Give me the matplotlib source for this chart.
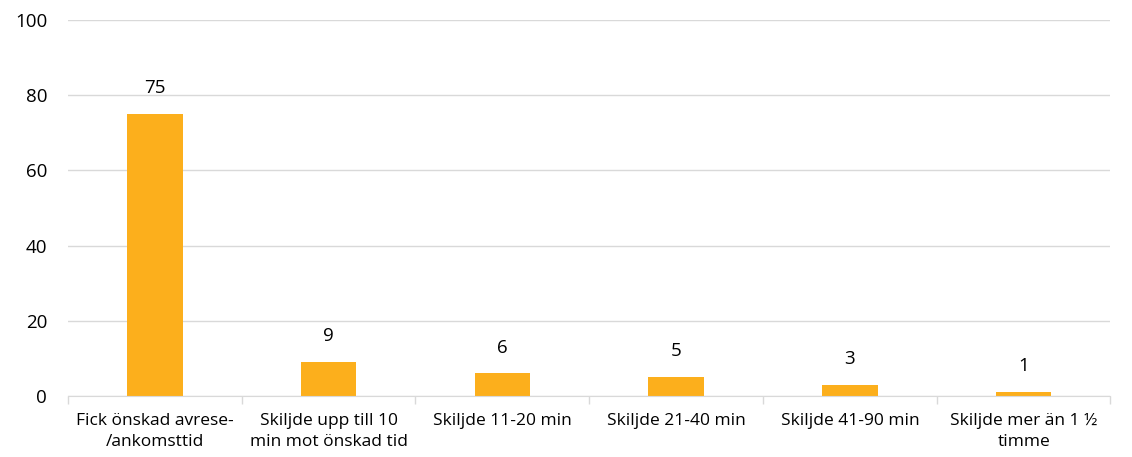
import matplotlib.pyplot as plt
import numpy as np

# data
categories = ["Fick önskad avrese-\n/ankomsttid", "Skiljde upp till 10\nmin mot önskad tid",
              "Skiljde 11-20 min", "Skiljde 21-40 min", "Skiljde 41-90 min",
              "Skiljde mer än 1 ½\ntimme"]
values = [75, 9, 6, 5, 3, 1]
yticks = [0, 20, 40, 60, 80, 100]

plt.rcParams['font.family'] = ['Open Sans', 'DejaVu Sans']

fig = plt.figure(figsize=(11.32, 4.57), dpi=100)
ax = fig.add_axes([0.060, 0.1335, 0.921, 0.8225])

x = np.arange(len(categories))
bars = ax.bar(x, values, width=0.32, color='#FCAF1C', zorder=3)

for xi, v in zip(x, values):
    ax.text(xi, v + 4.5, str(v), ha='center', va='bottom', fontsize=13.5, color='#000000')

ax.set_xlim(-0.5, len(categories) - 0.5)
ax.set_ylim(0, 100)
ax.set_yticks(yticks)
ax.set_yticklabels([str(t) for t in yticks], fontsize=13.5)
ax.tick_params(axis='y', length=0, pad=15)
ax.grid(axis='y', color='#D9D9D9', linewidth=1, zorder=0)

# category labels, ticks between categories
ax.set_xticks(x)
ax.set_xticklabels(categories, fontsize=12.5, linespacing=1.45)
ax.tick_params(axis='x', length=0, pad=12)
ax.set_xticks(np.arange(len(categories) + 1) - 0.5, minor=True)
ax.tick_params(axis='x', which='minor', length=6, color='#D9D9D9', width=1)

for s in ['top', 'right', 'left']:
    ax.spines[s].set_visible(False)
ax.spines['bottom'].set_color('#D9D9D9')
ax.spines['bottom'].set_zorder(4)

fig.savefig('out.png', dpi=100)
